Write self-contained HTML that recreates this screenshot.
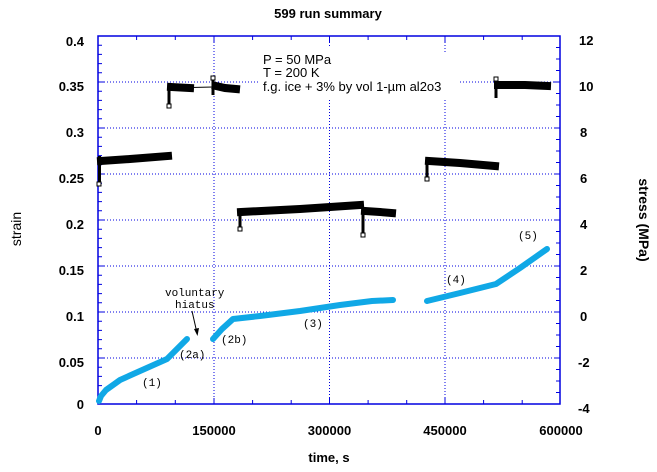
<!DOCTYPE html>
<html><head><meta charset="utf-8"><style>
html,body{margin:0;padding:0;background:#fff;}
svg{display:block;font-family:"Liberation Sans",sans-serif;}
</style></head><body>
<svg width="657" height="472" viewBox="0 0 657 472" xmlns="http://www.w3.org/2000/svg">
<rect width="657" height="472" fill="#fff"/>
<text x="328" y="18" font-size="13" font-weight="bold" text-anchor="middle">599 run summary</text>
<g stroke="#0000e0" stroke-width="1" stroke-dasharray="1,2" fill="none">
<line x1="98" y1="358" x2="560" y2="358"/>
<line x1="98" y1="312" x2="560" y2="312"/>
<line x1="98" y1="266" x2="560" y2="266"/>
<line x1="98" y1="220" x2="560" y2="220"/>
<line x1="98" y1="174" x2="560" y2="174"/>
<line x1="98" y1="128" x2="560" y2="128"/>
<line x1="98" y1="82" x2="260" y2="82"/>
<line x1="460" y1="82" x2="560" y2="82"/>
<line x1="214" y1="36" x2="214" y2="404"/>
<line x1="329.5" y1="36" x2="329.5" y2="48"/>
<line x1="329.5" y1="100" x2="329.5" y2="404"/>
<line x1="445" y1="36" x2="445" y2="52"/>
<line x1="445" y1="100" x2="445" y2="404"/>
</g>
<rect x="98" y="36" width="462" height="368" fill="none" stroke="#0000e0" stroke-width="1.5"/>
<g stroke="#0000e0" stroke-width="1">
<path d="M136.6 404v-4M175.3 404v-4M214 404v-6M252.6 404v-4M291.2 404v-4M329.5 404v-6M368.1 404v-4M406.7 404v-4M445 404v-6M483.6 404v-4M522.2 404v-4
M136.6 36v4M175.3 36v4M214 36v6M252.6 36v4M291.2 36v4M329.5 36v6M368.1 36v4M406.7 36v4M445 36v6M483.6 36v4M522.2 36v4"/>
<path d="M98 394.8h4M98 385.6h4M98 376.4h4M98 367.2h4M98 358h6M98 348.8h4M98 339.6h4M98 330.4h4M98 321.2h4M98 312h6M98 302.8h4M98 293.6h4M98 284.4h4M98 275.2h4M98 266h6M98 256.8h4M98 247.6h4M98 238.4h4M98 229.2h4M98 220h6M98 210.8h4M98 201.6h4M98 192.4h4M98 183.2h4M98 174h6M98 164.8h4M98 155.6h4M98 146.4h4M98 137.2h4M98 128h6M98 118.8h4M98 109.6h4M98 100.4h4M98 91.2h4M98 82h6M98 72.8h4M98 63.6h4M98 54.4h4M98 45.2h4"/>
<path d="M560 392.5h-4M560 381h-4M560 369.5h-4M560 358h-6M560 346.5h-4M560 335h-4M560 323.5h-4M560 312h-6M560 300.5h-4M560 289h-4M560 277.5h-4M560 266h-6M560 254.5h-4M560 243h-4M560 231.5h-4M560 220h-6M560 208.5h-4M560 197h-4M560 185.5h-4M560 174h-6M560 162.5h-4M560 151h-4M560 139.5h-4M560 128h-6M560 116.5h-4M560 105h-4M560 93.5h-4M560 82h-6M560 70.5h-4M560 59h-4M560 47.5h-4"/>
</g>
<g font-size="13" font-weight="bold" text-anchor="end">
<text x="84" y="409">0</text><text x="84" y="367">0.05</text><text x="84" y="321">0.1</text>
<text x="84" y="275">0.15</text><text x="84" y="229">0.2</text><text x="84" y="183">0.25</text>
<text x="84" y="137">0.3</text><text x="84" y="91">0.35</text><text x="84" y="46">0.4</text>
</g>
<g font-size="13" font-weight="bold" text-anchor="start">
<text x="578" y="413">-4</text><text x="578" y="367">-2</text><text x="580" y="321">0</text>
<text x="580" y="275">2</text><text x="580" y="229">4</text><text x="580" y="183">6</text>
<text x="580" y="137">8</text><text x="579" y="91">10</text><text x="579" y="45">12</text>
</g>
<g font-size="13" font-weight="bold" text-anchor="middle">
<text x="98" y="435">0</text><text x="214" y="435">150000</text><text x="329.5" y="435">300000</text>
<text x="445" y="435">450000</text><text x="561" y="435">600000</text>
<text x="329" y="462">time, s</text>
</g>
<text transform="translate(21,229) rotate(-90)" font-size="14" text-anchor="middle">strain</text>
<text transform="translate(639,220) rotate(90)" font-size="14" font-weight="bold" text-anchor="middle">stress (MPa)</text>
<g font-size="13">
<text x="263" y="64">P = 50 MPa</text>
<text x="263" y="77">T = 200 K</text>
<text x="263" y="91">f.g. ice + 3% by vol 1-µm al2o3</text>
</g>
<g stroke="#10a8e6" stroke-width="6" fill="none" stroke-linecap="round" stroke-linejoin="round">
<path d="M99 401 L101 396 L106 390 L120 380 L140 371 L167 359 L175 351 L187 339"/>
<path d="M213 339 L222 329 L233 319 L260 316 L300 311 L340 305 L372 301 L393 300"/>
<path d="M427 301 L460 293 L496 284 L520 268 L547 249"/>
</g>
<g stroke="#000" fill="none">
<path d="M169 88 L213 87" stroke-width="1"/>
<g stroke-width="8" stroke-linecap="square">
<path d="M101 161 L130 159 L168 156"/>
<path d="M171 87 L190 88"/>
<path d="M216 86 L225 88 L236 89"/>
<path d="M241 212 L300 209 L360 205"/>
<path d="M365 211 L380 212 L392 213"/>
<path d="M429 161 L460 163 L495 166"/>
<path d="M498 85 L525 85 L547 86"/>
</g>
<g stroke-width="3">
<path d="M99.5 156V184"/><path d="M169 87V106"/><path d="M213 78V95"/>
<path d="M240 210V228"/><path d="M363 210V235"/><path d="M427 160V180"/><path d="M496 79V98"/>
</g>
<g stroke-width="1" fill="#fff">
<rect x="97" y="182" width="4" height="4"/><rect x="167" y="104" width="4" height="4"/>
<rect x="211" y="76" width="4" height="4"/><rect x="238" y="227" width="4" height="4"/>
<rect x="361" y="233" width="4" height="4"/><rect x="425" y="177" width="4" height="4"/>
<rect x="494" y="77" width="4" height="4"/>
</g>
</g>
<g font-size="11" font-family="Liberation Mono, monospace">
<text x="142" y="386">(1)</text>
<text x="179" y="358">(2a)</text>
<text x="221" y="343">(2b)</text>
<text x="303" y="327">(3)</text>
<text x="446" y="283">(4)</text>
<text x="518" y="239">(5)</text>
<text x="165" y="296">voluntary</text>
<text x="175" y="308">hiatus</text>
</g>
<path d="M192 311 L197 333" stroke="#000" stroke-width="1"/>
<path d="M194 329 L197.5 336 L199 328 Z" fill="#000"/>
</svg>
</body></html>
